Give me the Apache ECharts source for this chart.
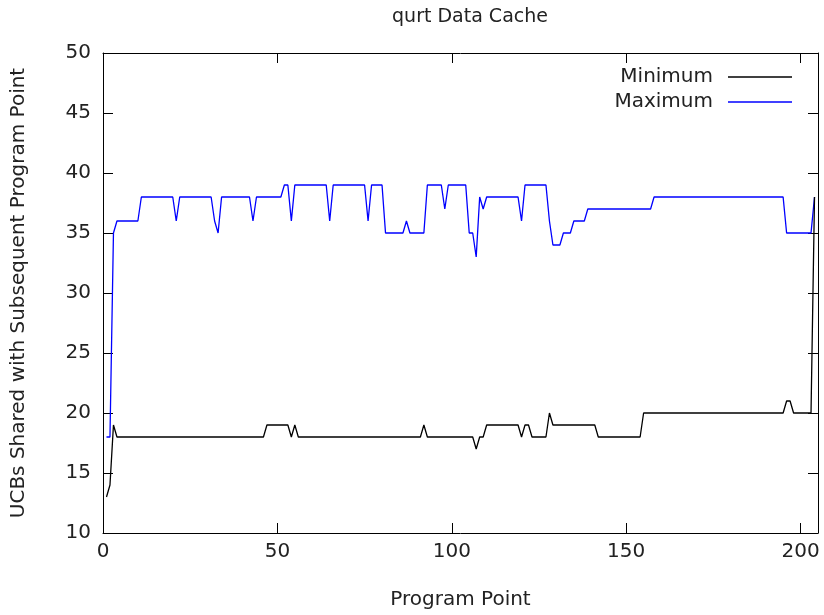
<!DOCTYPE html>
<html>
<head>
<meta charset="utf-8">
<title>qurt Data Cache</title>
<script src="https://cdn.jsdelivr.net/npm/echarts@6/dist/echarts.min.js"></script>
<style>
  html, body { margin: 0; padding: 0; background: #fff; }
  #chart { width: 824px; height: 615px; }
</style>
</head>
<body>
<div id="chart"></div>
<script>
// Program points 1..204
const programPoints = [
  1,2,3,4,5,6,7,8,9,10,11,12,13,14,15,16,17,18,19,20,
  21,22,23,24,25,26,27,28,29,30,31,32,33,34,35,36,37,38,39,40,
  41,42,43,44,45,46,47,48,49,50,51,52,53,54,55,56,57,58,59,60,
  61,62,63,64,65,66,67,68,69,70,71,72,73,74,75,76,77,78,79,80,
  81,82,83,84,85,86,87,88,89,90,91,92,93,94,95,96,97,98,99,100,
  101,102,103,104,105,106,107,108,109,110,111,112,113,114,115,116,117,118,119,120,
  121,122,123,124,125,126,127,128,129,130,131,132,133,134,135,136,137,138,139,140,
  141,142,143,144,145,146,147,148,149,150,151,152,153,154,155,156,157,158,159,160,
  161,162,163,164,165,166,167,168,169,170,171,172,173,174,175,176,177,178,179,180,
  181,182,183,184,185,186,187,188,189,190,191,192,193,194,195,196,197,198,199,200,
  201,202,203,204
];

// Minimum UCBs shared with subsequent program points
const minimumUCBs = [
  13,14,19,18,18,18,18,18,18,18,18,18,18,18,18,18,18,18,18,18,
  18,18,18,18,18,18,18,18,18,18,18,18,18,18,18,18,18,18,18,18,
  18,18,18,18,18,18,19,19,19,19,19,19,19,18,19,18,18,18,18,18,
  18,18,18,18,18,18,18,18,18,18,18,18,18,18,18,18,18,18,18,18,
  18,18,18,18,18,18,18,18,18,18,18,19,18,18,18,18,18,18,18,18,
  18,18,18,18,18,18,17,18,18,19,19,19,19,19,19,19,19,19,19,18,
  19,19,18,18,18,18,18,20,19,19,19,19,19,19,19,19,19,19,19,19,
  19,18,18,18,18,18,18,18,18,18,18,18,18,18,20,20,20,20,20,20,
  20,20,20,20,20,20,20,20,20,20,20,20,20,20,20,20,20,20,20,20,
  20,20,20,20,20,20,20,20,20,20,20,20,20,20,20,21,21,20,20,20,
  20,20,20,38
];

// Maximum UCBs shared with subsequent program points
const maximumUCBs = [
  18,18,35,36,36,36,36,36,36,36,38,38,38,38,38,38,38,38,38,38,
  36,38,38,38,38,38,38,38,38,38,38,36,35,38,38,38,38,38,38,38,
  38,38,36,38,38,38,38,38,38,38,38,39,39,36,39,39,39,39,39,39,
  39,39,39,39,36,39,39,39,39,39,39,39,39,39,39,36,39,39,39,39,
  35,35,35,35,35,35,36,35,35,35,35,35,39,39,39,39,39,37,39,39,
  39,39,39,39,35,35,33,38,37,38,38,38,38,38,38,38,38,38,38,36,
  39,39,39,39,39,39,39,36,34,34,34,35,35,35,36,36,36,36,37,37,
  37,37,37,37,37,37,37,37,37,37,37,37,37,37,37,37,37,38,38,38,
  38,38,38,38,38,38,38,38,38,38,38,38,38,38,38,38,38,38,38,38,
  38,38,38,38,38,38,38,38,38,38,38,38,38,38,38,35,35,35,35,35,
  35,35,35,38
];

const xTicks = [0, 50, 100, 150, 200];
const yTicks = [10, 15, 20, 25, 30, 35, 40, 45, 50];

const FONT = 'DejaVu Sans';
const TEXT = '#222';
const FS = 20;

const chart = echarts.init(document.getElementById('chart'), null, { renderer: 'canvas' });

const pairs = (ys) => programPoints.map((x, i) => [x, ys[i]]);

const lineStyleAxis = { show: true, onZero: false, lineStyle: { color: '#000', width: 1 } };
const tickStyle = (values) => ({
  show: true, inside: true, length: 10, customValues: values,
  lineStyle: { color: '#000', width: 1 }
});

chart.setOption({
  animation: false,
  backgroundColor: '#fff',
  title: {
    text: 'qurt Data Cache',
    left: 465,
    top: 3,
    textAlign: 'center',
    textStyle: { fontFamily: FONT, fontSize: 19, fontWeight: 'normal', color: TEXT }
  },
  legend: {
    orient: 'vertical',
    right: 32,
    top: 67,
    padding: 0,
    align: 'right',
    icon: 'rect',
    itemWidth: 64,
    itemHeight: 1.3,
    itemGap: 5,
    textStyle: { fontFamily: FONT, fontSize: FS, color: TEXT, padding: [0, 10, 0, 0] },
    data: ['Minimum', 'Maximum']
  },
  grid: { left: 103, right: 6, top: 53, bottom: 80 },
  xAxis: [
    {
      type: 'value', position: 'bottom', min: 0, max: 205,
      axisLine: lineStyleAxis,
      axisTick: tickStyle(xTicks),
      splitLine: { show: false },
      axisLabel: { fontFamily: FONT, fontSize: FS, color: TEXT, margin: 9, customValues: xTicks },
      name: 'Program Point',
      nameLocation: 'middle',
      nameGap: 57,
      nameTextStyle: { fontFamily: FONT, fontSize: FS, color: TEXT }
    },
    {
      type: 'value', position: 'top', min: 0, max: 205,
      axisLine: lineStyleAxis,
      axisTick: tickStyle(xTicks),
      splitLine: { show: false },
      axisLabel: { show: false }
    }
  ],
  yAxis: [
    {
      type: 'value', position: 'left', min: 10, max: 50, interval: 5,
      axisLine: lineStyleAxis,
      axisTick: tickStyle(yTicks),
      splitLine: { show: false },
      axisLabel: { fontFamily: FONT, fontSize: FS, color: TEXT, margin: 12, customValues: yTicks },
      name: 'UCBs Shared with Subsequent Program Point',
      nameLocation: 'middle',
      nameGap: 74,
      nameTextStyle: { fontFamily: FONT, fontSize: FS, color: TEXT }
    },
    {
      type: 'value', position: 'right', min: 10, max: 50, interval: 5,
      axisLine: lineStyleAxis,
      axisTick: tickStyle(yTicks),
      splitLine: { show: false },
      axisLabel: { show: false }
    }
  ],
  series: [
    {
      name: 'Minimum',
      type: 'line',
      xAxisIndex: 0, yAxisIndex: 0,
      data: pairs(minimumUCBs),
      symbol: 'none',
      color: '#000000',
      lineStyle: { color: '#000000', width: 1.3 },
      z: 3
    },
    {
      name: 'Maximum',
      type: 'line',
      xAxisIndex: 0, yAxisIndex: 0,
      data: pairs(maximumUCBs),
      symbol: 'none',
      color: '#0000ff',
      lineStyle: { color: '#0000ff', width: 1.3 },
      z: 2
    }
  ]
});
</script>
</body>
</html>
